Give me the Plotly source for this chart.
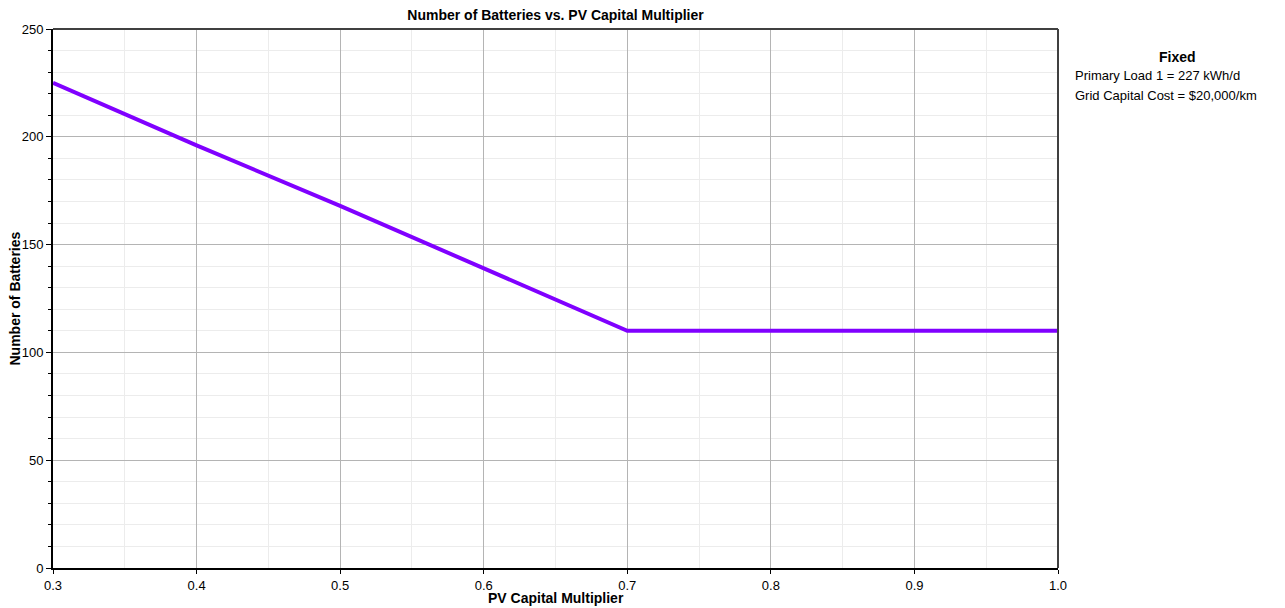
import plotly.graph_objects as go

pv_multiplier = [0.3, 0.4, 0.5, 0.6, 0.7, 0.8, 0.9, 1.0]
num_batteries = [225, 196, 168, 139, 110, 110, 110, 110]

x_ticks = [0.3, 0.4, 0.5, 0.6, 0.7, 0.8, 0.9, 1.0]
x_tick_labels = ["0.3", "0.4", "0.5", "0.6", "0.7", "0.8", "0.9", "1.0"]
y_ticks = [0, 50, 100, 150, 200, 250]

title = "Number of Batteries vs. PV Capital Multiplier"
x_title = "PV Capital Multiplier"
y_title = "Number of Batteries"
fixed_lines = ["Primary Load 1 = 227 kWh/d", "Grid Capital Cost = $20,000/km"]

FONT = "Liberation Sans, Arial, sans-serif"

# page body has an 8px offset
OFF = 8
L, T, PW, PH = 53 - OFF, 29 - OFF, 1005, 539
W, H = 1285 - OFF, 608 - OFF

fig = go.Figure()
fig.add_trace(go.Scatter(
    x=pv_multiplier, y=num_batteries, mode="lines",
    line=dict(color="#8000FF", width=4), showlegend=False,
))

def px(xa):  # absolute page x -> paper
    return (xa - OFF - L) / PW

def py(ya):  # absolute page y -> paper
    return 1 - (ya - OFF - T) / PH

fig.update_layout(
    width=W, height=H,
    margin=dict(l=L, r=W - L - PW, t=T, b=H - T - PH, autoexpand=False),
    paper_bgcolor="white", plot_bgcolor="white",
    font=dict(family=FONT, size=13, color="black"),
    title=dict(text="<b>" + title + "</b>", x=(555.5 - OFF) / W, xanchor="center",
               y=1 - (15 - OFF) / H, yanchor="middle", font=dict(size=14, family=FONT)),
    annotations=[
        dict(text="<b>Fixed</b>", xref="paper", yref="paper", x=px(1177),
             y=py(57), xanchor="center", yanchor="middle", showarrow=False,
             font=dict(size=14, family=FONT)),
        dict(text=fixed_lines[0], xref="paper", yref="paper", x=px(1073),
             y=py(76), xanchor="left", yanchor="middle", showarrow=False,
             font=dict(size=13, family=FONT)),
        dict(text=fixed_lines[1], xref="paper", yref="paper", x=px(1073),
             y=py(95), xanchor="left", yanchor="middle", showarrow=False,
             font=dict(size=13, family=FONT)),
        dict(text="<b>" + x_title + "</b>", xref="paper", yref="paper", x=0.5,
             y=py(598), xanchor="center", yanchor="middle", showarrow=False,
             font=dict(size=14, family=FONT)),
        dict(text="<b>" + y_title + "</b>", xref="paper", yref="paper", x=px(14),
             y=0.5, xanchor="center", yanchor="middle", showarrow=False, textangle=-90,
             font=dict(size=14, family=FONT)),
    ],
)

fig.update_xaxes(
    range=[0.3, 1.0], tickvals=x_ticks, ticktext=x_tick_labels,
    showgrid=True, gridcolor="#b4b4b4", gridwidth=1,
    minor=dict(dtick=0.05, showgrid=True, gridcolor="#ececec", ticks=""),
    ticks="outside", ticklen=4, tickcolor="black",
    showline=True, linecolor="black", linewidth=2,
    zeroline=False, automargin=False,
)
fig.update_yaxes(
    range=[0, 250], tickvals=y_ticks,
    showgrid=True, gridcolor="#b4b4b4", gridwidth=1,
    minor=dict(dtick=10, showgrid=True, gridcolor="#ececec", ticks="outside", ticklen=3, tickcolor="black"),
    ticks="outside", ticklen=5, tickcolor="black",
    showline=True, linecolor="black", linewidth=2,
    zeroline=False, automargin=False,
)

# right and top frame lines
fig.add_shape(type="line", xref="paper", yref="paper", x0=1, x1=1, y0=0, y1=1,
              line=dict(color="#404040", width=2))
fig.add_shape(type="line", xref="paper", yref="paper", x0=0, x1=1, y0=1, y1=1,
              line=dict(color="#404040", width=2))

fig.write_html("out.html")
